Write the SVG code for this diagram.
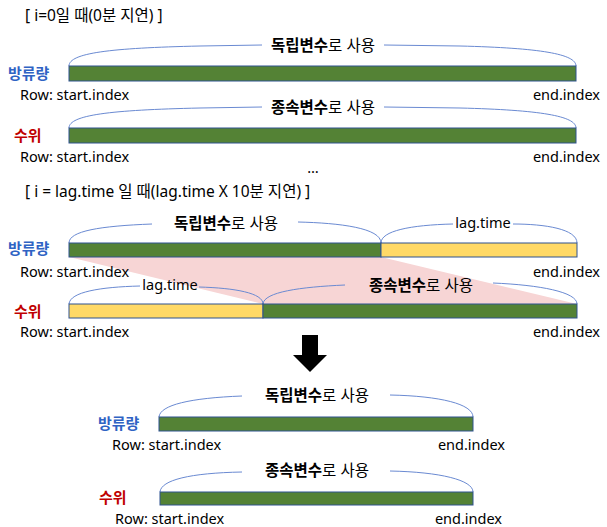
<svg xmlns="http://www.w3.org/2000/svg" width="607" height="527" viewBox="0 0 607 527">
<style>
text{font-family:"Noto Sans","Noto Sans CJK KR",sans-serif;font-size:14.5px;fill:#000}
.t{font-size:15.5px}
.lbl{font-size:15.5px;text-anchor:middle}
.b{font-weight:bold}
.blue{font-weight:bold;font-size:15px;fill:#2F63C4}
.red{font-weight:bold;font-size:15px;fill:#C00000}
.end{text-anchor:end}
.mid{text-anchor:middle}
.g{fill:#548235;stroke:#2F528F;stroke-width:1}
.y{fill:#FFD966;stroke:#2F528F;stroke-width:1}
.br{fill:none;stroke:#6A8AD2;stroke-width:1}
</style>
<rect width="607" height="527" fill="#fff"/>
<polygon points="69,257 381,257 577,304 263,304" fill="#F7D5D5"/>
<g id="connectors">
<path class="br" d="M69,66 C69,53 110,48 200,46 L262,45 M384,45 L460,46 C540,48 576,54 576,66"/>
<path class="br" d="M69,128 C69,115 110,110 200,108 L262,107 M384,107 L460,108 C540,110 576,116 576,128"/>
<path class="br" d="M69,243 C69,231 100,226 152,224 M298,222 C340,223 381,228 381,243"/>
<path class="br" d="M381,243 C381,231 410,225 453,224 M513,224 C545,224 577,229 577,243"/>
<path class="br" d="M69,304 C70,292 100,287 140,286 M199,287 C235,288 263,293 263,304"/>
<path class="br" d="M263,304 C264,292 300,287 345,285 M493,283 C540,285 577,292 577,304"/>
<path class="br" d="M159,417 C160,405 190,398 242,396 M390,395 C440,396 473,404 473,417"/>
<path class="br" d="M160,492 C161,480 190,473 242,472 M390,471 C440,472 473,480 473,492"/>
<polygon points="302,335 318,335 318,355 327,355 310,372 293,355 302,355" fill="#000"/>
</g>
<g id="title1"><text class="t" x="25" y="21">[ i=0일 때(0분 지연) ]</text></g>
<g id="row1">
<rect class="g" x="69" y="66" width="507" height="15"/>
<text class="lbl" x="323" y="51"><tspan class="b">독립변수</tspan>로 사용</text>
<text class="blue" x="8" y="79">방류량</text>
<text x="20" y="100">Row: start.index</text>
<text class="end" x="600" y="100">end.index</text>
</g>
<g id="row2">
<rect class="g" x="69" y="128" width="507" height="15"/>
<text class="lbl" x="323" y="113"><tspan class="b">종속변수</tspan>로 사용</text>
<text class="red" x="14" y="141">수위</text>
<text x="20" y="162">Row: start.index</text>
<text class="end" x="600" y="162">end.index</text>
</g>
<g id="dots"><text class="mid" x="313" y="173">…</text></g>
<g id="title2"><text class="t" x="25" y="197">[ i = lag.time 일 때(lag.time X 10분 지연) ]</text></g>
<g id="row3">
<rect class="g" x="69" y="243" width="312" height="14"/>
<rect class="y" x="381" y="243" width="196" height="14"/>
<text class="lbl" x="226" y="229"><tspan class="b">독립변수</tspan>로 사용</text>
<text class="mid" x="483" y="228">lag.time</text>
<text class="blue" x="8" y="254">방류량</text>
<text x="20" y="277">Row: start.index</text>
<text class="end" x="600" y="277">end.index</text>
</g>
<g id="row4">
<rect class="y" x="69" y="304" width="194" height="14"/>
<rect class="g" x="263" y="304" width="314" height="14"/>
<text class="mid" x="170" y="290">lag.time</text>
<text class="lbl" x="421" y="291"><tspan class="b">종속변수</tspan>로 사용</text>
<text class="red" x="14" y="317">수위</text>
<text x="20" y="337">Row: start.index</text>
<text class="end" x="600" y="337">end.index</text>
</g>
<g id="row5">
<rect class="g" x="159" y="417" width="314" height="14"/>
<text class="lbl" x="317" y="401"><tspan class="b">독립변수</tspan>로 사용</text>
<text class="blue" x="98" y="429">방류량</text>
<text x="112" y="450">Row: start.index</text>
<text class="end" x="505" y="450">end.index</text>
</g>
<g id="row6">
<rect class="g" x="160" y="492" width="313" height="13"/>
<text class="lbl" x="317" y="476"><tspan class="b">종속변수</tspan>로 사용</text>
<text class="red" x="99" y="503">수위</text>
<text x="115" y="524">Row: start.index</text>
<text class="end" x="502" y="524">end.index</text>
</g>
</svg>
